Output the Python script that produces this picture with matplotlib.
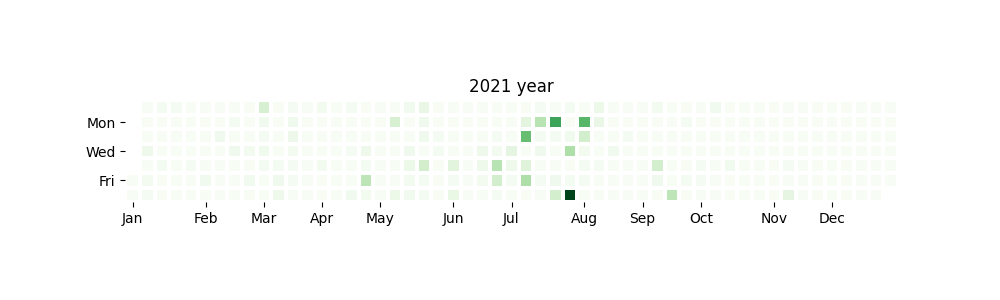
import numpy as np
import pandas as pd
import matplotlib
matplotlib.use('Agg')
import matplotlib.pyplot as plt

year = 2021
weekday_labels = ['Mon', 'Wed', 'Fri']
month_labels = ['Jan', 'Feb', 'Mar', 'Apr', 'May', 'Jun',
                'Jul', 'Aug', 'Sep', 'Oct', 'Nov', 'Dec']

# activity per week column (53 weeks), one list per weekday, Sunday first
# None = day outside the year
sun = [None, 0, 2, 2, 0, 0, 0, 0, 0,
       18, 0, 2, 0, 3, 0, 2, 0, 0,
       0, 4, 9, 0, 0, 0, 0, 0, 0,
       0, 2, 0, 2, 0, 8, 0, 0, 0,
       3, 0, 0, 0, 4, 0, 0, 0, 0,
       0, 0, 0, 0, 0, 0, 0, 0]
mon = [None, 0, 0, 0, 0, 0, 0, 2, 0,
       4, 0, 5, 0, 0, 0, 0, 0, 0,
       18, 0, 5, 0, 0, 0, 0, 0, 0,
       13, 30, 65, 0, 57, 9, 0, 0, 0,
       0, 0, 2, 0, 0, 0, 0, 0, 0,
       0, 0, 0, 0, 0, 0, 0, 0]
tue = [None, 0, 0, 0, 0, 0, 5, 0, 0,
       2, 0, 7, 0, 0, 0, 0, 0, 0,
       0, 0, 5, 2, 0, 0, 0, 2, 0,
       53, 2, 2, 4, 20, 0, 0, 2, 0,
       0, 0, 0, 0, 0, 0, 0, 0, 0,
       0, 0, 0, 0, 0, 0, 0, 0]
wed = [None, 6, 0, 0, 0, 0, 0, 5, 3,
       4, 0, 3, 0, 0, 0, 2, 6, 0,
       0, 5, 0, 2, 0, 0, 6, 3, 12,
       0, 5, 0, 33, 3, 0, 4, 0, 0,
       0, 0, 0, 0, 0, 0, 0, 0, 0,
       0, 0, 0, 0, 0, 0, 0, 0]
thu = [None, 0, 2, 0, 2, 0, 0, 0, 0,
       2, 2, 2, 0, 3, 0, 0, 2, 0,
       0, 8, 20, 0, 14, 0, 6, 30, 6,
       15, 0, 0, 0, 2, 2, 0, 0, 0,
       20, 0, 0, 2, 0, 4, 0, 0, 0,
       2, 0, 0, 0, 0, 0, 0, 0]
fri = [0, 3, 0, 0, 0, 4, 0, 0, 4,
       0, 5, 2, 0, 0, 0, 0, 28, 0,
       0, 3, 2, 0, 2, 0, 3, 20, 2,
       33, 2, 5, 2, 2, 0, 0, 0, 0,
       5, 0, 2, 2, 0, 0, 0, 0, 0,
       0, 0, 0, 0, 0, 0, 0, 0]
sat = [0, 2, 0, 0, 0, 0, 0, 0, 0,
       0, 6, 0, 0, 0, 0, 4, 3, 0,
       8, 4, 2, 0, 10, 0, 0, 2, 0,
       0, 0, 20, 100, 0, 0, 0, 0, 0,
       0, 28, 0, 0, 0, 0, 0, 0, 0,
       12, 0, 0, 0, 0, 0, 0, None]

grid = np.array([sun, mon, tue, wed, thu, fri, sat], dtype=float)
grid = np.ma.masked_invalid(grid)

# week column where each month starts (weeks begin on Sunday)
jan1 = pd.Timestamp(f'{year}-01-01')
offset = (jan1.dayofweek + 1) % 7
month_cols = []
for m in range(1, 13):
    d = pd.Timestamp(year=year, month=m, day=1)
    month_cols.append((d.dayofyear - 1 + offset) // 7)

fig = plt.figure(figsize=(10, 3), dpi=100)
ax = fig.add_axes([0.1245, 0.326, 0.774, 0.34])
ax.pcolormesh(grid, cmap='Greens', vmin=0, vmax=100,
              edgecolors='white', linewidth=1.6)
ax.set_aspect('equal')
ax.set_xlim(0, grid.shape[1])
ax.set_ylim(7, 0)

ax.set_yticks([1.5, 3.5, 5.5])
ax.set_yticklabels(weekday_labels)
ax.set_xticks(np.array(month_cols) + 0.5)
ax.set_xticklabels(month_labels)
for s in ax.spines.values():
    s.set_visible(False)

ax.set_title(f'{year} year', fontsize=12, pad=6)

fig.savefig('out.png', dpi=100)
